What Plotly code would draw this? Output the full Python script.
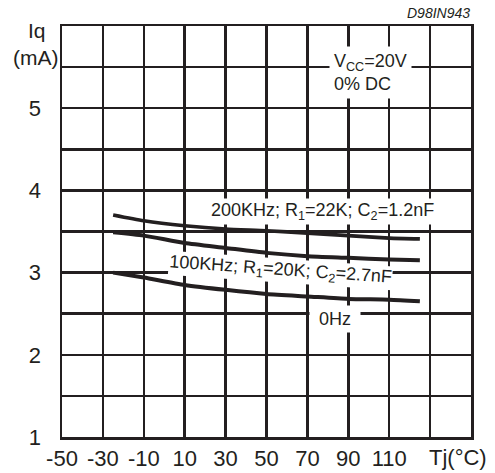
import plotly.graph_objects as go

# Data
tj = [-25, -10, 10, 30, 50, 70, 90, 110, 125]
iq_200k = [3.70, 3.63, 3.57, 3.53, 3.51, 3.48, 3.45, 3.42, 3.41]
iq_100k = [3.49, 3.45, 3.36, 3.30, 3.24, 3.20, 3.18, 3.16, 3.15]
iq_0hz = [3.00, 2.94, 2.85, 2.79, 2.74, 2.71, 2.68, 2.67, 2.65]

x_tickvals = [-50, -30, -10, 10, 30, 50, 70, 90, 110, 130, 150]
x_ticktext = ["-50", "-30", "-10", "10", "30", "50", "70", "90", "110", "", ""]
y_tickvals = [1, 1.5, 2, 2.5, 3, 3.5, 4, 4.5, 5, 5.5, 6]
y_ticktext = ["1", "", "2", "", "3", "", "4", "", "5", "", ""]

INK = "#231f20"
FONT = "Liberation Sans, Arial, sans-serif"

fig = go.Figure()
for ys, w in [(iq_200k, 3.6), (iq_100k, 4), (iq_0hz, 4)]:
    fig.add_trace(go.Scatter(x=tj, y=ys, mode="lines",
                             line=dict(color=INK, width=w, shape="spline", smoothing=0.6),
                             showlegend=False, hoverinfo="skip"))

axis_common = dict(showgrid=True, gridcolor=INK, gridwidth=2.5, automargin=False,
                   showline=True, linecolor=INK, linewidth=2.5, mirror=True,
                   zeroline=False, ticks="", tickfont=dict(family=FONT, size=22, color=INK))

fig.update_xaxes(range=[-50, 150], tickmode="array", tickvals=x_tickvals, ticktext=x_ticktext,
                 ticklabelstandoff=0, **axis_common)
fig.update_yaxes(range=[1, 6], tickmode="array", tickvals=y_tickvals, ticktext=y_ticktext,
                 ticklabelstandoff=14, **axis_common)

ann_font = dict(family=FONT, size=18, color=INK)
anns = [
    dict(x=77.6, y=3.745, text="200KHz; R<sub>1</sub>=22K; C<sub>2</sub>=1.2nF",
         bgcolor="white", borderpad=1),
    dict(x=56.6, y=3.03, text="100KHz; R<sub>1</sub>=20K; C<sub>2</sub>=2.7nF",
         textangle=4, bgcolor="white", borderpad=0),
    dict(x=83.5, y=2.44, text="0Hz", bgcolor="white", borderpad=3, width=44),
    dict(x=101, y=5.43, text="V<sub>CC</sub>=20V<br>0% DC", align="left",
         bgcolor="white", borderpad=4),
]
for a in anns:
    fig.add_annotation(xref="x", yref="y", showarrow=False, font=ann_font,
                       xanchor="center", yanchor="middle", **a)

lab_font = dict(family=FONT, size=21, color=INK)
fig.add_annotation(xref="paper", yref="paper", x=-0.061, y=0.99, text="Iq",
                   xanchor="center", yanchor="middle", showarrow=False, font=lab_font)
fig.add_annotation(xref="paper", yref="paper", x=-0.064, y=0.924, text="(mA)",
                   xanchor="center", yanchor="middle", showarrow=False, font=lab_font)
fig.add_annotation(xref="paper", yref="paper", x=0.968, y=-0.051, text="Tj(°C)",
                   xanchor="center", yanchor="middle", showarrow=False,
                   font=dict(family=FONT, size=22, color=INK))
fig.add_annotation(xref="paper", yref="paper", x=1.002, y=1.032, text="<i>D98IN943</i>",
                   xanchor="right", yanchor="middle", showarrow=False,
                   font=dict(family=FONT, size=14, color=INK))

fig.update_layout(width=495, height=473, margin=dict(l=62, r=24, t=26, b=36),
                  paper_bgcolor="white", plot_bgcolor="white")

# remove the page body's default 8px margin so the figure fills the window exactly
fig.write_html("out.html", config={"displayModeBar": False, "staticPlot": True},
               post_script="document.body.style.margin='0';")
